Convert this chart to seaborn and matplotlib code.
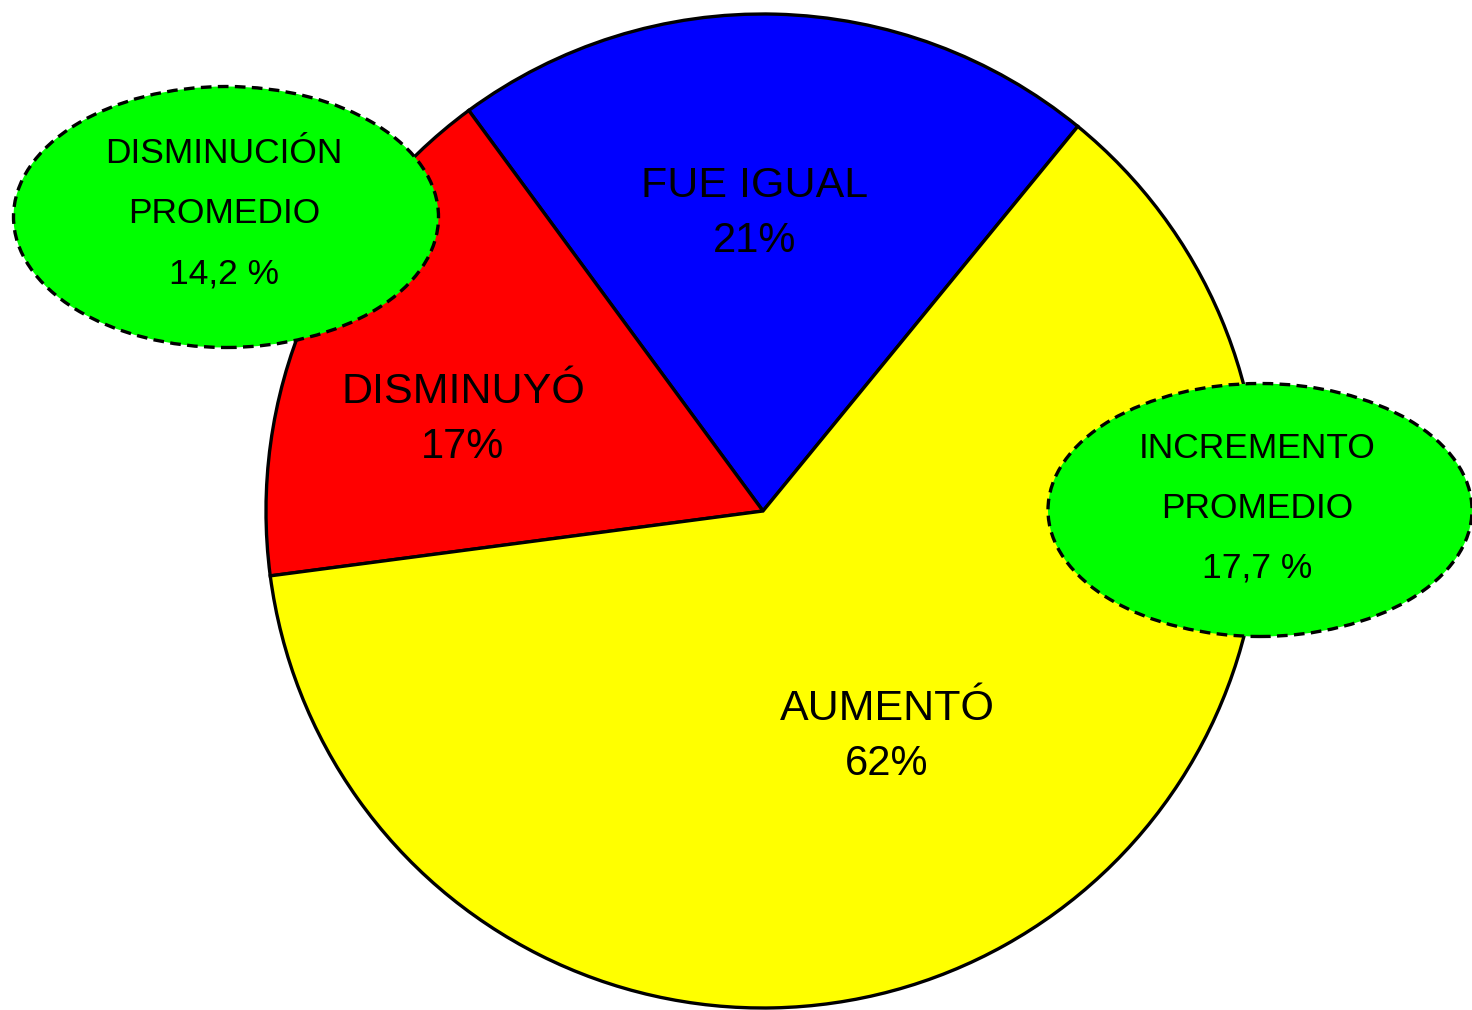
import matplotlib
matplotlib.use('Agg')
import matplotlib.pyplot as plt
import seaborn as sns
from matplotlib.patches import Ellipse

# data
categories = ['FUE IGUAL', 'DISMINUYÓ', 'AUMENTÓ']
shares = [21, 17, 62]
slice_colors = ['#0000FF', '#FF0000', '#FFFF00']
bubble_titles = [['DISMINUCIÓN', 'PROMEDIO'], ['INCREMENTO', 'PROMEDIO']]
bubble_values = ['14,2 %', '17,7 %']

sns.set_theme(style='white')
plt.rcParams['font.family'] = ['Liberation Sans', 'DejaVu Sans']

W, H = 1472, 1010
fig = plt.figure(figsize=(W / 100, H / 100), dpi=100)
ax = fig.add_axes([0, 0, 1, 1])


def Y(py):
    # pixel row (from top) -> data y
    return H - py


cx, cy, r = 763, Y(511), 497
ax.pie(shares, colors=slice_colors, startangle=50.7, counterclock=True,
       center=(cx, cy), radius=r, frame=True,
       wedgeprops=dict(edgecolor='black', linewidth=2.4))

# slice labels (name + percentage), positioned by baseline
label_pos = [(755, 197, 252), (463, 403, 458), (887, 720, 775)]
for name, val, (x, b1, b2) in zip(categories, shares, label_pos):
    ax.text(x, Y(b1), name, ha='center', va='baseline', fontsize=31, color='black', zorder=5)
    ax.text(x, Y(b2), f'{val}%', ha='center', va='baseline', fontsize=30, color='black', zorder=5)

# green dashed bubbles
bubbles = [((226, 217), 425, 261, 224, (163, 223, 283)),
           ((1260, 510), 424, 253, 1257, (458, 518, 578))]
for (center, w, h, tx, bases), titles, value in zip(bubbles, bubble_titles, bubble_values):
    e = Ellipse((center[0], Y(center[1])), w, h, facecolor='#00FF00', edgecolor='black',
                linewidth=2.4, linestyle=(0, (3.2, 1.9)), zorder=4)
    ax.add_patch(e)
    for txt, b in zip(titles + [value], bases):
        ax.text(tx, Y(b), txt, ha='center', va='baseline', fontsize=25.5, color='black', zorder=6)

ax.set_xlim(0, W)
ax.set_ylim(0, H)
ax.set_aspect('equal')
ax.axis('off')

fig.savefig('out.png', dpi=100, facecolor='white')
